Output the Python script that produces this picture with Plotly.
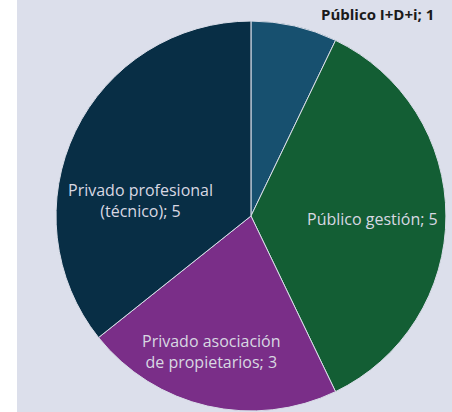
import plotly.graph_objects as go

labels = ["Público I+D+i", "Público gestión", "Privado asociación de propietarios", "Privado profesional (técnico)"]
display_labels = ["Público I+D+i", "Público gestión", "Privado asociación<br>de propietarios", "Privado profesional<br>(técnico)"]
values = [1, 5, 3, 5]
colors = ["#17506f", "#135e34", "#7a2e88", "#082e45"]

texts = [f"{l}; {v}" for l, v in zip(display_labels, values)]

# label anchor positions in pixels (layout only)
label_pos = [(377, 14), (372, 219), (211, 351), (140, 200)]
label_style = [
    dict(color="#1a1a1a", size=15, bold=True),
    dict(color="#d8d8e2", size=16, bold=False),
    dict(color="#d8d8e2", size=16, bold=False),
    dict(color="#d8d8e2", size=16, bold=False),
]

fig = go.Figure(go.Pie(
    labels=labels,
    values=values,
    textinfo="none",
    sort=False,
    direction="clockwise",
    rotation=0,
    marker=dict(colors=colors, line=dict(color="#d9dde8", width=1)),
    domain=dict(x=[0.0897, 0.986], y=[0.0024, 0.949]),
    showlegend=False,
    hoverinfo="label+value",
))

for t, (px, py), st in zip(texts, label_pos, label_style):
    fig.add_annotation(
        text=f"<b>{t}</b>" if st["bold"] else t,
        x=px, y=py, xref="x", yref="y", showarrow=False, align="center",
        font=dict(family="Open Sans", size=st["size"], color=st["color"]),
    )

fig.update_layout(
    width=452, height=412,
    margin=dict(l=17, r=0, t=0, b=0),
    paper_bgcolor="white",
    plot_bgcolor="rgba(0,0,0,0)",
    xaxis=dict(range=[17, 452], visible=False, fixedrange=True),
    yaxis=dict(range=[412, 0], visible=False, fixedrange=True),
    shapes=[dict(type="rect", xref="paper", yref="paper", x0=0, x1=1, y0=0, y1=1,
                 fillcolor="#dcdfeb", line=dict(width=0), layer="below")],
)

fig.write_html(
    "out.html",
    config={"displayModeBar": False},
    post_script="document.body.style.margin='0';document.body.style.overflow='hidden';",
)
